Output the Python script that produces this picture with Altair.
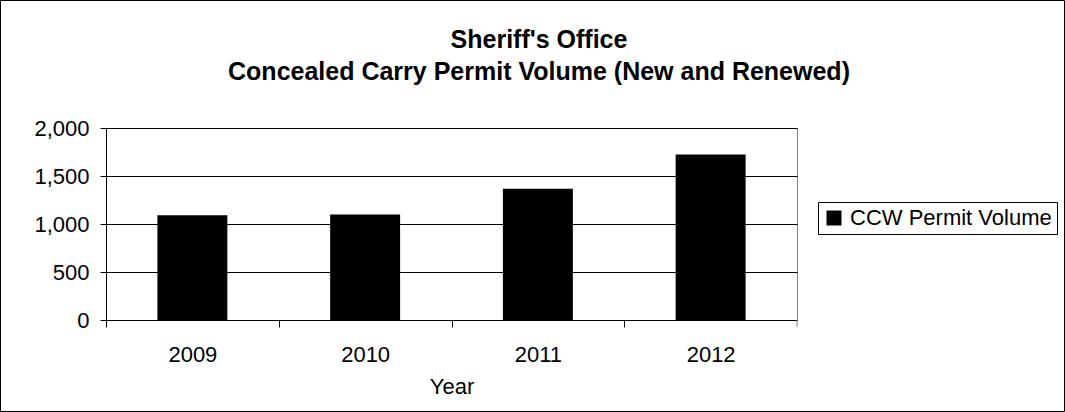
import altair as alt
import pandas as pd

years = ["2009", "2010", "2011", "2012"]
volumes = [1090, 1100, 1368, 1725]
series = ["CCW Permit Volume"] * 4
yticks = [0, 500, 1000, 1500, 2000]

df = pd.DataFrame({"Year": years, "Volume": volumes, "Series": series})

FONT = "Liberation Sans"
W, H = 691, 192
P_IN, P_OUT = 0.595, 0.2975
STEP = W / len(years)
HALF_GAP = P_IN * STEP / 2

bars = alt.Chart(df).mark_bar().encode(
    x=alt.X(
        "Year:N", title="Year", sort=years,
        scale=alt.Scale(paddingInner=P_IN, paddingOuter=P_OUT),
        axis=alt.Axis(labelAngle=0, bandPosition=0, tickOffset=-HALF_GAP, labelOffset=HALF_GAP,
                      tickSize=7, labelPadding=17,
                      titlePadding=11, domainColor="black", tickColor="black",
                      labelFontSize=22, titleFontSize=22, titleFontWeight="normal",
                      labelColor="black", titleColor="black", labelFont=FONT, titleFont=FONT),
    ),
    y=alt.Y(
        "Volume:Q", title=None,
        scale=alt.Scale(domain=[0, 2000], nice=False),
        axis=alt.Axis(values=yticks, format=",.0f", grid=True, gridColor="black", gridOpacity=1,
                      tickSize=6, labelPadding=11, domainColor="black", tickColor="black",
                      labelFontSize=22, labelColor="black", labelFont=FONT),
    ),
    color=alt.Color(
        "Series:N", scale=alt.Scale(range=["black"]),
        legend=alt.Legend(title=None, orient="none", legendX=712, legendY=74,
                          strokeColor="black", fillColor="white", padding=5,
                          symbolType="square", symbolSize=225, symbolStrokeWidth=0,
                          labelFontSize=22, labelFont=FONT, labelColor="black",
                          labelOffset=5, labelLimit=400),
    ),
)

# closing tick at the right edge of the category axis (grey, like the plot frame)
end_tick = alt.Chart(alt.Data(values=[{"a": 1}])).mark_rule(color="#808080").encode(
    x=alt.value(W), y=alt.value(H), y2=alt.value(H + 7)
)

border = alt.Chart(alt.Data(values=[{"a": 1}])).mark_rect(
    fillOpacity=0, stroke="black", strokeWidth=1
).encode(
    x=alt.value(-105.5), x2=alt.value(958.5), y=alt.value(-127.5), y2=alt.value(283.5)
)

chart = alt.layer(bars, end_tick, border).properties(
    width=W,
    height=H,
    autosize="none",
    padding={"left": 106, "top": 128, "right": 268, "bottom": 92},
    title=alt.TitleParams(
        text=["Sheriff's Office", "Concealed Carry Permit Volume (New and Renewed)"],
        font=FONT, fontSize=25, fontWeight="bold", color="black",
        anchor="middle", dx=87.5, lineHeight=32, offset=-85,
    ),
).configure_view(stroke="#808080")

chart.save("out.html", embed_options={"renderer": "svg", "actions": False})
